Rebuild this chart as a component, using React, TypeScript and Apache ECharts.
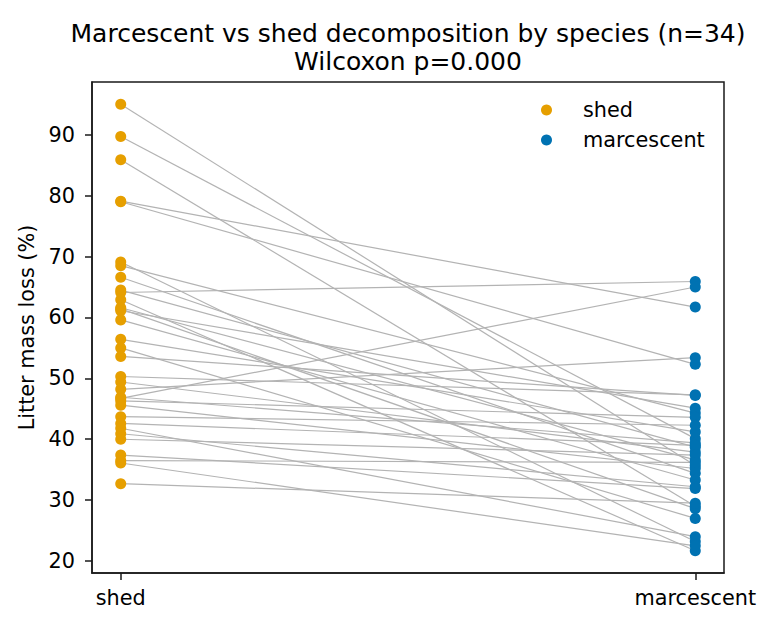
import React, { useEffect, useRef } from "react";
import * as echarts from "echarts";

const categories = ["shed", "marcescent"];
const shedVals = [
  95.0, 89.7, 85.9, 79.1, 79.0, 69.1, 68.5, 66.6, 64.5, 64.1, 62.9, 61.6,
  61.4, 61.1, 59.6, 56.4, 55.0, 53.6, 50.3, 49.4, 48.2, 46.9, 46.7, 46.3,
  45.6, 43.7, 42.6, 41.8, 40.9, 40.0, 37.4, 36.5, 36.1, 32.7,
];
const marcVals = [
  35.7, 40.1, 29.0, 61.7, 52.3, 23.2, 44.3, 34.4, 38.7, 65.9, 21.7, 36.6,
  28.6, 45.1, 33.3, 41.2, 27.0, 47.2, 47.3, 37.9, 53.4, 39.4, 65.0, 43.6,
  35.2, 42.3, 39.0, 24.0, 32.2, 37.4, 31.9, 36.2, 22.5, 29.5,
];
const yTicks = [20, 30, 40, 50, 60, 70, 80, 90];
const titleLines = [
  "Marcescent vs shed decomposition by species (n=34)",
  "Wilcoxon p=0.000",
];

const FONT = "DejaVu Sans";
const FS = 20.8;

export default function App() {
  const ref = useRef<HTMLDivElement>(null);
  useEffect(() => {
    if (!ref.current) return;
    const chart = echarts.init(ref.current, null, { renderer: "svg" });
    const all = shedVals.concat(marcVals);
    const dMin = Math.min(...all);
    const dMax = Math.max(...all);
    const pad = (dMax - dMin) * 0.05;
    const left = 92, right = 724, top = 82, bottom = 573;
    chart.setOption({
      animation: false,
      backgroundColor: "#fff",
      textStyle: { fontFamily: FONT },
      grid: {
        left,
        top,
        width: right - left,
        height: bottom - top,
        show: true,
        borderColor: "#1a1a1a",
        borderWidth: 1.5,
        backgroundColor: "transparent",
      },
      graphic: titleLines.map((t, i) => ({
        type: "text",
        x: (left + right) / 2,
        y: 33 + i * 28,
        style: {
          text: t,
          align: "center",
          verticalAlign: "middle",
          fontFamily: FONT,
          fontSize: 25,
          fill: "#000",
        },
      })),
      legend: {
        orient: "vertical",
        left: 536,
        top: 93,
        icon: "circle",
        itemWidth: 11,
        itemHeight: 11,
        itemGap: 6,
        data: ["shed", "marcescent"],
        textStyle: {
          fontFamily: FONT,
          fontSize: FS,
          lineHeight: 24,
          color: "#000",
          padding: [0, 0, 0, 26],
        },
      },
      xAxis: {
        type: "value",
        min: -0.05,
        max: 1.05,
        axisLine: { show: true, onZero: false, lineStyle: { color: "#1a1a1a", width: 1.5 } },
        axisTick: {
          show: true,
          customValues: [0, 1],
          length: 7,
          lineStyle: { color: "#1a1a1a", width: 1.5 },
        },
        axisLabel: {
          customValues: [0, 1],
          formatter: (v: number) => categories[Math.round(v)] ?? "",
          color: "#000",
          fontFamily: FONT,
          fontSize: FS,
          margin: 14,
        },
        splitLine: { show: false },
      },
      yAxis: {
        type: "value",
        min: dMin - pad,
        max: dMax + pad,
        name: "Litter mass loss (%)",
        nameLocation: "middle",
        nameGap: 43,
        nameTextStyle: { fontFamily: FONT, fontSize: FS, color: "#000" },
        axisLine: { show: true, onZero: false, lineStyle: { color: "#1a1a1a", width: 1.5 } },
        axisTick: {
          show: true,
          customValues: yTicks,
          length: 7,
          lineStyle: { color: "#1a1a1a", width: 1.5 },
        },
        axisLabel: {
          customValues: yTicks,
          color: "#000",
          fontFamily: FONT,
          fontSize: FS,
          margin: 17,
        },
        splitLine: { show: false },
      },
      series: [
        {
          type: "lines",
          coordinateSystem: "cartesian2d",
          silent: true,
          z: 1,
          lineStyle: { color: "#b3b3b3", width: 1.2, opacity: 1 },
          data: shedVals.map((s, i) => ({
            coords: [
              [0, s],
              [1, marcVals[i]],
            ],
          })),
        },
        {
          name: "shed",
          type: "scatter",
          z: 3,
          symbolSize: 11,
          itemStyle: { color: "#E69F00", opacity: 1 },
          data: shedVals.map((s) => [0, s]),
        },
        {
          name: "marcescent",
          type: "scatter",
          z: 3,
          symbolSize: 11,
          itemStyle: { color: "#0072B2", opacity: 1 },
          data: marcVals.map((m) => [1, m]),
        },
      ],
    });
    return () => chart.dispose();
  }, []);
  return (
    <div
      ref={ref}
      style={{ position: "fixed", left: 0, top: 0, width: 780, height: 630 }}
    />
  );
}
